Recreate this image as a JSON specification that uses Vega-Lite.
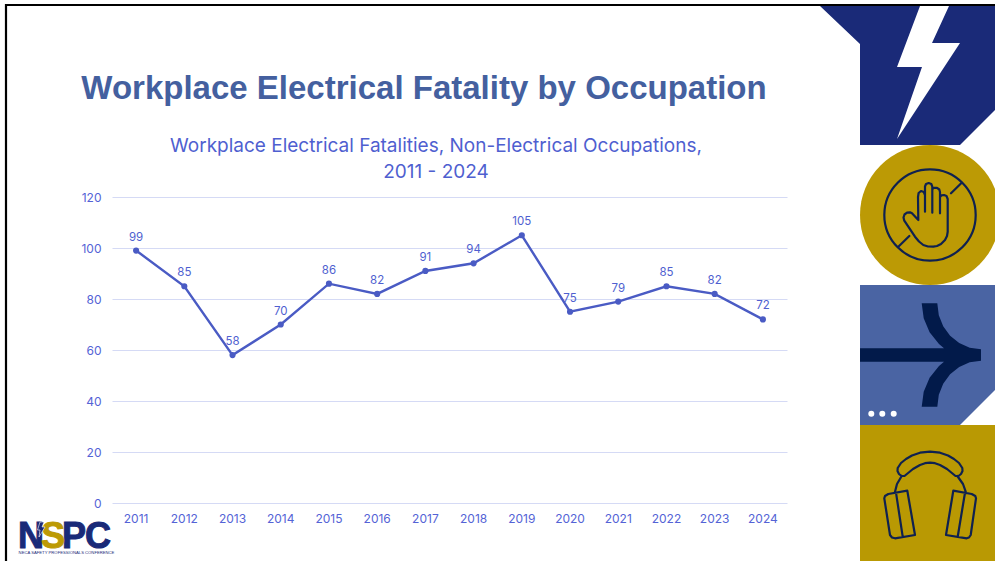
{
  "$schema": "https://vega.github.io/schema/vega-lite/v6.json",
  "width": 675,
  "height": 306,
  "autosize": "none",
  "padding": {"left": 112, "top": 197, "right": 208, "bottom": 58},
  "background": "#ffffff",
  "config": {"view": {"stroke": null}, "font": "Inter"},
  "projection": {"type": "identity", "scale": 1, "translate": [-112, -197], "reflectY": false},
  "datasets": {
    "fatalities": [
      {"year": "2011", "deaths": 99},
      {"year": "2012", "deaths": 85},
      {"year": "2013", "deaths": 58},
      {"year": "2014", "deaths": 70},
      {"year": "2015", "deaths": 86},
      {"year": "2016", "deaths": 82},
      {"year": "2017", "deaths": 91},
      {"year": "2018", "deaths": 94},
      {"year": "2019", "deaths": 105},
      {"year": "2020", "deaths": 75},
      {"year": "2021", "deaths": 79},
      {"year": "2022", "deaths": 85},
      {"year": "2023", "deaths": 82},
      {"year": "2024", "deaths": 72}
    ],
    "frame": [
      {"type": "Feature", "geometry": {"type": "LineString", "coordinates": [[6, 561], [6, 5], [995, 5]]}}
    ],
    "navyPanels": [
      {"type": "Feature", "geometry": {"type": "Polygon", "coordinates": [[[820, 6], [860, 44], [860, 145], [960, 145], [995, 110], [995, 6], [820, 6]]]}}
    ],
    "bolt": [
      {"type": "Feature", "geometry": {"type": "Polygon", "coordinates": [[[920, 6], [949, 6], [932, 43], [960, 43], [897, 139], [922, 67], [897, 67], [920, 6]]]}}
    ],
    "bluePanel": [
      {"type": "Feature", "geometry": {"type": "Polygon", "coordinates": [[[860, 285], [995, 285], [995, 390], [960, 425], [860, 425], [860, 285]]]}}
    ],
    "goldPanel": [
      {"type": "Feature", "geometry": {"type": "Polygon", "coordinates": [[[860, 425], [995, 425], [995, 561], [860, 561], [860, 425]]]}}
    ],
    "arrow": [
      {"type": "Feature", "geometry": {"type": "Polygon", "coordinates": [[[921.7, 303.3], [937.3, 303.3], [938.8, 315.2], [943.2, 326.3], [950.1, 335.8], [959.2, 343.1], [969.7, 347.7], [981, 349.3], [981, 360.7], [969.7, 362.3], [959.2, 366.9], [950.1, 374.2], [943.2, 383.7], [938.8, 394.8], [937.3, 406.7], [921.7, 406.7], [923.7, 391.8], [929.6, 377.8], [939, 365.9], [944, 361.7], [860, 361.7], [860, 348.3], [944, 348.3], [939, 344.1], [929.6, 332.2], [923.7, 318.2], [921.7, 303.3]]]}}
    ],
    "iconLines": [
      {"type": "Feature", "geometry": {"type": "MultiLineString", "coordinates": [
        [[951, 193.3], [961.7, 182.7]],
        [[898.3, 246.7], [909.3, 236]],
        [[918.3, 220], [918, 197], [918.6, 193], [921, 191], [923.8, 192], [925, 195], [925, 211.7]],
        [[925, 195], [925, 186.5], [926, 184], [928.7, 183], [931.3, 184], [932.3, 186.7], [932.3, 212.7]],
        [[932.3, 189], [934, 187.8], [937, 187.8], [939.3, 189.5], [940, 192], [940, 213.3]],
        [[940, 197], [941.5, 195.3], [944, 195], [946.5, 196], [947.7, 199], [947.7, 231.7], [947, 236], [945, 240], [941, 244], [937, 246], [933.3, 246.7], [928, 246.5], [923.3, 245], [919, 241.5], [915, 236.7], [904.3, 220.7], [903.5, 217.5], [904.5, 214.5], [907, 212.7], [910, 212.3], [912, 213.3], [918.3, 220]],
        [[897.7, 468], [901, 463], [906, 459], [912, 455.5], [920, 452.7], [930, 451.7], [940, 452.7], [948, 455.5], [954, 459], [959, 463], [962.3, 468], [962.5, 471], [961, 474], [958.5, 476], [955.5, 476], [952.5, 473.5], [947, 469], [940, 465], [935, 463.2], [930, 462.7], [925, 463.2], [920, 465], [913, 469], [907.5, 473.5], [904.5, 476], [901.5, 476], [899, 474], [897.5, 471], [897.7, 468]],
        [[901.7, 476], [897, 484], [895, 491.7]],
        [[957.3, 476], [963, 484], [965.7, 491.7]],
        [[884.3, 498.3], [885, 496], [888.3, 494], [907.3, 490.7], [915, 535], [895, 538.3], [892, 537.5], [890, 535], [884.3, 498.3]],
        [[896, 492.7], [902.7, 536.7]],
        [[976, 498.3], [975.3, 496], [971.7, 494], [953.3, 490.7], [946, 535], [966.7, 538.3], [969, 537.5], [970.7, 535], [976, 498.3]],
        [[965, 492.7], [957.7, 536.7]]
      ]}}
    ],
    "goldDisc": [{"lon": 930, "lat": 215}],
    "dots": [{"lon": 871.3, "lat": 413.7}, {"lon": 882.3, "lat": 413.7}, {"lon": 893.7, "lat": 413.7}],
    "logoNavy": [
      {"lon": 18, "lat": 548, "letter": "N"},
      {"lon": 62, "lat": 548, "letter": "P"},
      {"lon": 85, "lat": 548, "letter": "C"}
    ],
    "logoGold": [{"lon": 41, "lat": 548, "letter": "S"}],
    "logoBolt": [
      {"type": "Feature", "geometry": {"type": "Polygon", "coordinates": [[[40, 522], [44, 522], [42, 527], [45, 527], [39, 537], [40, 530], [37.5, 530], [40, 522]]]}}
    ],
    "logoCaption": [{"lon": 66.5, "lat": 554, "caption": "NECA SAFETY PROFESSIONALS CONFERENCE"}],
    "heading": [{"lon": 424, "lat": 99, "caption": "Workplace Electrical Fatality by Occupation"}],
    "chartTitle": [
      {"lon": 436, "lat": 152, "caption": "Workplace Electrical Fatalities, Non-Electrical Occupations,"},
      {"lon": 436, "lat": 178, "caption": "2011 - 2024"}
    ]
  },
  "layer": [
    {"data": {"name": "frame"}, "mark": {"type": "geoshape", "clip": false, "filled": false, "stroke": "#000000", "strokeWidth": 2.2}},
    {"data": {"name": "navyPanels"}, "mark": {"type": "geoshape", "clip": false, "fill": "#1A2A78", "stroke": null}},
    {"data": {"name": "bluePanel"}, "mark": {"type": "geoshape", "clip": false, "fill": "#4A64A3", "stroke": null}},
    {"data": {"name": "goldPanel"}, "mark": {"type": "geoshape", "clip": false, "fill": "#B99903", "stroke": null}},
    {"data": {"name": "bolt"}, "mark": {"type": "geoshape", "clip": false, "fill": "#ffffff", "stroke": null}},
    {"data": {"name": "arrow"}, "mark": {"type": "geoshape", "clip": false, "fill": "#021A4A", "stroke": null}},
    {
      "data": {"name": "goldDisc"},
      "mark": {"type": "point", "clip": false, "shape": "circle", "filled": true, "fill": "#BC9A05", "size": 19600, "opacity": 1},
      "encoding": {"longitude": {"field": "lon", "type": "quantitative"}, "latitude": {"field": "lat", "type": "quantitative"}}
    },
    {
      "data": {"name": "goldDisc"},
      "mark": {"type": "point", "clip": false, "shape": "circle", "filled": false, "stroke": "#0F2150", "strokeWidth": 2.2, "size": 8350, "opacity": 1},
      "encoding": {"longitude": {"field": "lon", "type": "quantitative"}, "latitude": {"field": "lat", "type": "quantitative"}}
    },
    {"data": {"name": "iconLines"}, "mark": {"type": "geoshape", "clip": false, "filled": false, "stroke": "#0F2150", "strokeWidth": 2.2, "strokeJoin": "round", "strokeCap": "round"}},
    {
      "data": {"name": "dots"},
      "mark": {"type": "point", "clip": false, "shape": "circle", "filled": true, "fill": "#ffffff", "size": 36, "opacity": 1},
      "encoding": {"longitude": {"field": "lon", "type": "quantitative"}, "latitude": {"field": "lat", "type": "quantitative"}}
    },
    {
      "data": {"name": "heading"},
      "mark": {"type": "text", "clip": false, "font": "Liberation Sans", "fontWeight": "bold", "fontSize": 33, "color": "#44609F", "align": "center", "baseline": "alphabetic"},
      "encoding": {"longitude": {"field": "lon", "type": "quantitative"}, "latitude": {"field": "lat", "type": "quantitative"}, "text": {"field": "caption"}}
    },
    {
      "data": {"name": "chartTitle"},
      "mark": {"type": "text", "clip": false, "font": "Inter", "fontSize": 19, "color": "#4F5FD0", "align": "center", "baseline": "alphabetic"},
      "encoding": {"longitude": {"field": "lon", "type": "quantitative"}, "latitude": {"field": "lat", "type": "quantitative"}, "text": {"field": "caption"}}
    },
    {
      "data": {"name": "logoNavy"},
      "mark": {"type": "text", "clip": false, "font": "Liberation Sans", "fontWeight": "bold", "fontSize": 36, "color": "#1A2A78", "stroke": "#1A2A78", "strokeWidth": 1, "align": "left", "baseline": "alphabetic"},
      "encoding": {"longitude": {"field": "lon", "type": "quantitative"}, "latitude": {"field": "lat", "type": "quantitative"}, "text": {"field": "letter"}}
    },
    {
      "data": {"name": "logoGold"},
      "mark": {"type": "text", "clip": false, "font": "Liberation Sans", "fontWeight": "bold", "fontSize": 36, "color": "#BC9A05", "stroke": "#BC9A05", "strokeWidth": 1, "align": "left", "baseline": "alphabetic"},
      "encoding": {"longitude": {"field": "lon", "type": "quantitative"}, "latitude": {"field": "lat", "type": "quantitative"}, "text": {"field": "letter"}}
    },
    {"data": {"name": "logoBolt"}, "mark": {"type": "geoshape", "clip": false, "fill": "#1A2A78", "stroke": "#ffffff", "strokeWidth": 0.6}},
    {
      "data": {"name": "logoCaption"},
      "mark": {"type": "text", "clip": false, "font": "Liberation Sans", "fontWeight": "normal", "fontSize": 4.2, "color": "#1A2A78", "align": "center", "baseline": "alphabetic"},
      "encoding": {"longitude": {"field": "lon", "type": "quantitative"}, "latitude": {"field": "lat", "type": "quantitative"}, "text": {"field": "caption"}}
    },
    {
      "data": {"name": "fatalities"},
      "mark": {"type": "line", "color": "#4A5BC4", "strokeWidth": 2.4},
      "encoding": {
        "x": {
          "field": "year", "type": "ordinal", "title": null,
          "scale": {"type": "band", "paddingInner": 0, "paddingOuter": 0},
          "axis": {"labelAngle": 0, "domain": false, "ticks": false, "labelFont": "Inter", "labelFontSize": 12, "labelColor": "#5463D6", "labelPadding": 10}
        },
        "y": {
          "field": "deaths", "type": "quantitative", "title": null,
          "scale": {"domain": [0, 120], "nice": false},
          "axis": {"values": [0, 20, 40, 60, 80, 100, 120], "domain": false, "ticks": false, "gridColor": "#D5DAF5", "gridWidth": 1, "labelFont": "Inter", "labelFontSize": 12, "labelColor": "#5463D6", "labelPadding": 11}
        }
      }
    },
    {
      "data": {"name": "fatalities"},
      "mark": {"type": "point", "shape": "circle", "filled": true, "fill": "#4A5BC4", "size": 38, "opacity": 1},
      "encoding": {
        "x": {"field": "year", "type": "ordinal"},
        "y": {"field": "deaths", "type": "quantitative"}
      }
    },
    {
      "data": {"name": "fatalities"},
      "mark": {"type": "text", "font": "Inter", "fontSize": 11.5, "color": "#4F5FD0", "dy": -13},
      "encoding": {
        "x": {"field": "year", "type": "ordinal"},
        "y": {"field": "deaths", "type": "quantitative"},
        "text": {"field": "deaths", "type": "quantitative"}
      }
    }
  ]
}
